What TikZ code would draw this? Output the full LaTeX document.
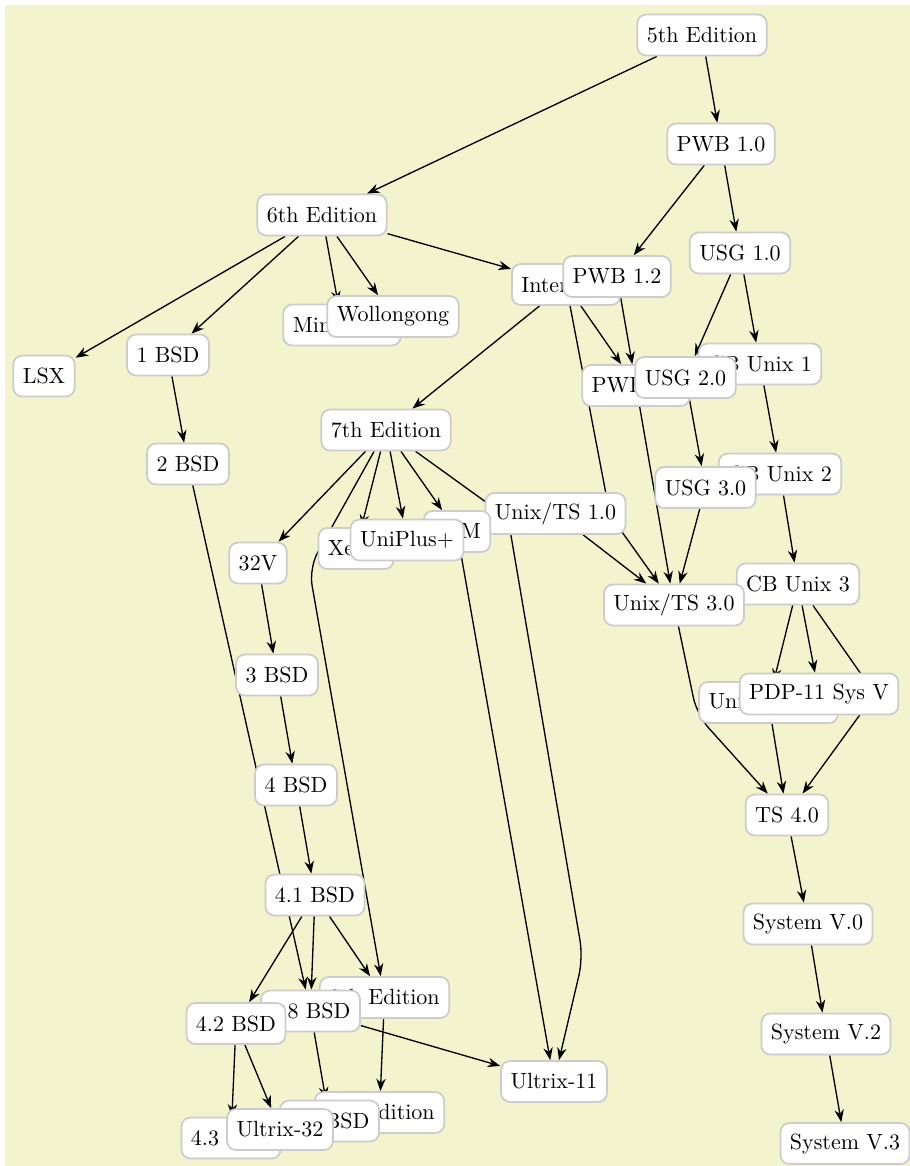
\documentclass[tikz,border=0pt]{standalone}
\usetikzlibrary{arrows.meta}
\definecolor{paleyellow}{RGB}{243,243,205}
\pgfdeclarelayer{back}
\pgfdeclarelayer{edgelayer}
\pgfsetlayers{back,edgelayer,main}

\begin{document}
\begin{tikzpicture}[
    x=0.4545pt, y=-0.4545pt,
    unix/.style={rectangle, rounded corners=4pt, draw=black!20, line width=0.8pt, fill=white, text=black, inner xsep=4.3pt, inner ysep=0pt, minimum height=18.6pt},
    arrow/.style={-{Stealth}, line width=0.6pt, draw=black},
    bent/.style={arrow, rounded corners=8pt}
]
\useasboundingbox (0,0) rectangle (910,1166);

\node[unix] (fifth) at (702, 35) {5th Edition};
\node[unix] (pwbone) at (721, 144) {PWB 1.0};
\node[unix] (sixth) at (322, 215) {6th Edition};
\node[unix] (usgone) at (740, 253) {USG 1.0};
\node[unix] (interdata) at (566, 284.5) {Interdata};
\node[unix] (pwbonetwo) at (617, 276.5) {PWB 1.2};
\node[unix] (lsx) at (44, 376) {LSX};
\node[unix] (bsdone) at (168, 355) {1 BSD};
\node[unix] (miniunix) at (342, 325) {Mini Unix};
\node[unix] (wollongong) at (393, 316.5) {Wollongong};
\node[unix] (pwbtwo) at (636, 385.5) {PWB 2.0};
\node[unix] (cbone) at (760, 364) {CB Unix 1};
\node[unix] (usgtwo) at (685.5, 377.5) {USG 2.0};
\node[unix] (seventh) at (386, 430) {7th Edition};
\node[unix] (bsdtwo) at (188, 464) {2 BSD};
\node[unix] (cbtwo) at (780, 474) {CB Unix 2};
\node[unix] (usgthree) at (705.5, 487.5) {USG 3.0};
\node[unix] (tsone) at (555.5, 513.5) {Unix/TS 1.0};
\node[unix] (xenix) at (356, 548.5) {Xenix};
\node[unix] (vsevenm) at (457, 531.5) {V7M};
\node[unix] (uniplus) at (407, 540) {UniPlus+};
\node[unix] (thirtytwov) at (258, 563) {32V};
\node[unix] (cbthree) at (798, 584) {CB Unix 3};
\node[unix] (tsthree) at (674, 605) {Unix/TS 3.0};
\node[unix] (bsdthree) at (277, 675) {3 BSD};
\node[unix] (tsplus) at (768.5, 702.5) {Unix/TS++};
\node[unix] (pdp) at (819, 694) {PDP-11 Sys V};
\node[unix] (bsdfour) at (296, 785) {4 BSD};
\node[unix] (tsfour) at (787, 815) {TS 4.0};
\node[unix] (bsdfourone) at (315, 895) {4.1 BSD};
\node[unix] (sysvzero) at (808, 924) {System V.0};
\node[unix] (eighth) at (384.5, 997.5) {8th Edition};
\node[unix] (bsdtwoeight) at (310.5, 1011) {2.8 BSD};
\node[unix] (bsdfourtwo) at (236, 1023.5) {4.2 BSD};
\node[unix] (sysvtwo) at (826, 1034) {System V.2};
\node[unix] (ultrixeleven) at (554, 1081.5) {Ultrix-11};
\node[unix] (ninth) at (379.5, 1112.5) {9th Edition};
\node[unix] (bsdtwonine) at (329.5, 1121) {2.9 BSD};
\node[unix] (bsdfourthree) at (231, 1138) {4.3 BSD};
\node[unix] (ultrixtt) at (280, 1129.5) {Ultrix-32};
\node[unix] (sysvthree) at (845, 1143.5) {System V.3};

% bend points of the long edges
\coordinate (b7to8) at (309, 568);
\coordinate (b7toU1) at (508, 518);
\coordinate (b7toU2) at (583, 958);
\coordinate (bIto3) at (610, 515);
\coordinate (b3to4) at (697, 715);
\coordinate (bCBto4) at (875, 694);

\begin{pgfonlayer}{back}
\fill[paleyellow] (5, 5) rectangle (915, 1171);
\end{pgfonlayer}

\begin{pgfonlayer}{edgelayer}
\draw[arrow] (fifth) -- (sixth);
\draw[arrow] (fifth) -- (pwbone);
\draw[arrow] (pwbone) -- (pwbonetwo);
\draw[arrow] (pwbone) -- (usgone);
\draw[arrow] (sixth) -- (lsx);
\draw[arrow] (sixth) -- (bsdone);
\draw[arrow] (sixth) -- (miniunix);
\draw[arrow] (sixth) -- (wollongong);
\draw[arrow] (sixth) -- (interdata);
\draw[arrow] (interdata) -- (seventh);
\draw[arrow] (interdata) -- (pwbtwo);
\draw[bent] (interdata) -- (bIto3) -- (tsthree);
\draw[arrow] (pwbonetwo) -- (pwbtwo);
\draw[arrow] (usgone) -- (cbone);
\draw[arrow] (usgone) -- (usgtwo);
\draw[arrow] (usgtwo) -- (usgthree);
\draw[arrow] (cbone) -- (cbtwo);
\draw[arrow] (cbtwo) -- (cbthree);
\draw[arrow] (pwbtwo) -- (tsthree);
\draw[arrow] (usgthree) -- (tsthree);
\draw[arrow] (tsone) -- (tsthree);
\draw[arrow] (cbthree) -- (tsplus);
\draw[arrow] (cbthree) -- (pdp);
\draw[bent] (cbthree) -- (bCBto4) -- (tsfour);
\draw[bent] (tsthree) -- (b3to4) -- (tsfour);
\draw[arrow] (tsplus) -- (tsfour);
\draw[arrow] (tsfour) -- (sysvzero);
\draw[arrow] (sysvzero) -- (sysvtwo);
\draw[arrow] (sysvtwo) -- (sysvthree);
\draw[arrow] (seventh) -- (thirtytwov);
\draw[bent] (seventh) -- (b7to8) -- (eighth);
\draw[arrow] (seventh) -- (xenix);
\draw[arrow] (seventh) -- (uniplus);
\draw[arrow] (seventh) -- (vsevenm);
\draw[bent] (seventh) -- (b7toU1) -- (b7toU2) -- (ultrixeleven);
\draw[arrow] (vsevenm) -- (ultrixeleven);
\draw[arrow] (bsdone) -- (bsdtwo);
\draw[arrow] (bsdtwo) -- (bsdtwoeight);
\draw[arrow] (thirtytwov) -- (bsdthree);
\draw[arrow] (bsdthree) -- (bsdfour);
\draw[arrow] (bsdfour) -- (bsdfourone);
\draw[arrow] (bsdfourone) -- (bsdfourtwo);
\draw[arrow] (bsdfourone) -- (bsdtwoeight);
\draw[arrow] (bsdfourone) -- (eighth);
\draw[arrow] (bsdfourtwo) -- (bsdfourthree);
\draw[arrow] (bsdfourtwo) -- (ultrixtt);
\draw[arrow] (bsdtwoeight) -- (ultrixeleven);
\draw[arrow] (bsdtwoeight) -- (bsdtwonine);
\draw[arrow] (eighth) -- (ninth);
\end{pgfonlayer}

\end{tikzpicture}
\end{document}
